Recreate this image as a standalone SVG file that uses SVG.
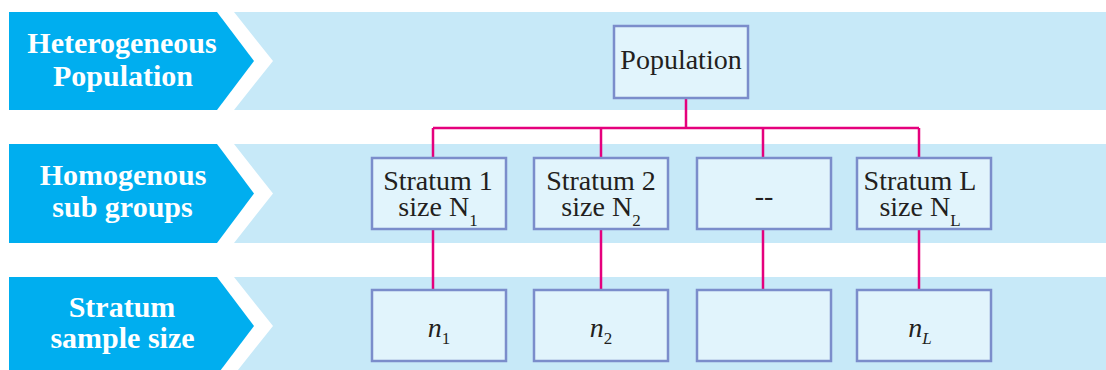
<svg xmlns="http://www.w3.org/2000/svg" width="1106" height="370" viewBox="0 0 1106 370">
<style>
.band{fill:#c7e9f8}
.tag{fill:#00aeef}
text{font-family:'Liberation Serif','DejaVu Serif',serif}
.tagtxt{font-weight:bold;font-size:30px;fill:#ffffff;text-anchor:middle}
.box{fill:#e1f4fc;stroke:#7b8dcb;stroke-width:2.5}
.btxt{font-size:28px;fill:#231f20;text-anchor:middle}
.sub{font-size:17px}
.it{font-style:italic}
.conn{fill:none;stroke:#e5007d;stroke-width:2.5}
</style>
<rect width="1106" height="370" fill="#ffffff"/>
<g id="row1">
<polygon class="band" points="234,12 1106,12 1106,110 234,110 273,61"/>
<polygon class="tag" points="9,12 217,12 254,61 217,110 9,110"/>
<text class="tagtxt" x="122" y="53">Heterogeneous</text>
<text class="tagtxt" x="123" y="86">Population</text>
</g>
<g id="row2">
<polygon class="band" points="234,144 1106,144 1106,243 234,243 273,193.5"/>
<polygon class="tag" points="9,144 217,144 254,193.5 217,243 9,243"/>
<text class="tagtxt" x="123" y="185">Homogenous</text>
<text class="tagtxt" x="122.5" y="217">sub groups</text>
</g>
<g id="row3">
<polygon class="band" points="234,277 1106,277 1106,370 234,370 234,375 273,326"/>
<polygon class="tag" points="9,277 217,277 254,326 217,375 9,375"/>
<text class="tagtxt" x="122" y="317">Stratum</text>
<text class="tagtxt" x="122.5" y="348">sample size</text>
</g>
<g id="connectors">
<path class="conn" d="M686,98V128M433,128H919M433,128V158M601,128V158M763,128V158M919,128V158M433,229V290M601,229V290M763,229V290M919,229V290"/>
</g>
<g id="population">
<rect class="box" x="614" y="26" width="134" height="72"/>
<text class="btxt" x="681" y="69" font-size="29">Population</text>
</g>
<g id="stratum1">
<rect class="box" x="372" y="158" width="134" height="71"/>
<text class="btxt" x="438" y="190">Stratum 1</text>
<text class="btxt" x="438" y="216">size N<tspan class="sub" dy="10">1</tspan></text>
</g>
<g id="stratum2">
<rect class="box" x="534" y="158" width="134" height="71"/>
<text class="btxt" x="601" y="190">Stratum 2</text>
<text class="btxt" x="601" y="216">size N<tspan class="sub" dy="10">2</tspan></text>
</g>
<g id="stratum-dots">
<rect class="box" x="697" y="158" width="134" height="71"/>
<text class="btxt" x="764" y="205">--</text>
</g>
<g id="stratumL">
<rect class="box" x="857" y="158" width="134" height="71"/>
<text class="btxt" x="920" y="190">Stratum L</text>
<text class="btxt" x="920" y="216">size N<tspan class="sub" dy="10">L</tspan></text>
</g>
<g id="sample1">
<rect class="box" x="372" y="290" width="134" height="71"/>
<text class="btxt" x="439" y="337"><tspan class="it">n</tspan><tspan class="sub" dy="7">1</tspan></text>
</g>
<g id="sample2">
<rect class="box" x="534" y="290" width="134" height="71"/>
<text class="btxt" x="601" y="337"><tspan class="it">n</tspan><tspan class="sub" dy="7">2</tspan></text>
</g>
<g id="sample-dots">
<rect class="box" x="697" y="290" width="134" height="71"/>
</g>
<g id="sampleL">
<rect class="box" x="857" y="290" width="134" height="71"/>
<text class="btxt" x="920" y="337"><tspan class="it">n</tspan><tspan class="sub it" dy="7">L</tspan></text>
</g>
</svg>
